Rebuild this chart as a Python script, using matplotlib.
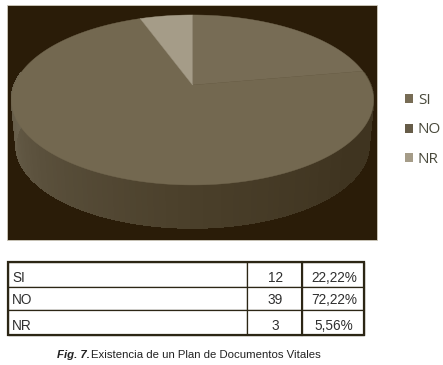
import numpy as np
import matplotlib
matplotlib.use('Agg')
import matplotlib.pyplot as plt
from matplotlib.patches import Polygon, Rectangle, Patch
from matplotlib.colors import to_rgb

categories = ['SI', 'NO', 'NR']
counts = [12, 39, 3]
percents = ['22,22%', '72,22%', '5,56%']
colors = ['#776c55', '#736850', '#a59c88']

fig = plt.figure(figsize=(4.43, 3.65), dpi=100, facecolor='white')
ax = fig.add_axes([0, 0, 1, 1])
ax.set_xlim(0, 443)
ax.set_ylim(365, 0)
ax.axis('off')

ax.add_patch(Rectangle((7, 5), 370, 235, fc='#2a1c08', ec='#cfcabd', lw=0.6, zorder=0))

# pie seen in perspective, centre is not the middle of the ellipse
cx, cy = 192.5, 85
k = 0.176
a = 82.35
b = 178.2


def project(theta, scale=1.0, shift=0.0):
    u = np.sin(theta)
    v = np.cos(theta)
    d = 1 + k * v
    return cx + scale * b * u / d, cy - scale * a * v / d + shift


# side wall
stops = [to_rgb(c) for c in ['#40351f', '#3f3420', '#4a3f2a', '#5a503c', '#6d6450']]
t = np.linspace(np.pi * 0.45, np.pi * 1.55, 120)
for i in range(len(t) - 1):
    th = np.linspace(t[i], t[i + 1], 3)
    x1, y1 = project(th)
    x2, y2 = project(th[::-1], 0.975, 45.5)
    f = i / (len(t) - 2) * (len(stops) - 1)
    j = min(int(f), len(stops) - 2)
    col = np.array(stops[j]) * (1 - (f - j)) + np.array(stops[j + 1]) * (f - j)
    ax.add_patch(Polygon(np.c_[np.r_[x1, x2], np.r_[y1, y2]], fc=col, ec=col, lw=0.5,
                         antialiased=False, zorder=1))

# top slices, clockwise from 12 o'clock
start = 0.0
total = sum(counts)
for n, col in zip(counts, colors):
    end = start + n / total * 2 * np.pi
    th = np.linspace(start, end, 200)
    x, y = project(th)
    ax.add_patch(Polygon(np.c_[np.r_[cx, x], np.r_[cy, y]], fc=col, ec=col, lw=0.3, zorder=2))
    start = end

handles = [Patch(fc=c, ec='none') for c in ['#776c55', '#665c48', '#a59c88']]
ax.legend(handles, categories, loc='center left', bbox_to_anchor=(405 / 443, 1 - 130 / 365),
          frameon=False, handlelength=0.52, handleheight=0.52, handletextpad=0.33,
          labelspacing=0.95, borderpad=0, borderaxespad=0, labelcolor='#4a4a3c',
          prop={'family': 'Open Sans', 'size': 11})

# table grid
tab = ax.table(cellText=[['', '', '']] * 3, colWidths=[239, 55, 62],
               bbox=[8 / 443, (365 - 335) / 365, 356 / 443, 73 / 365])
heights = [24.7, 23.6, 24.7]
for (r, c), cell in tab.get_celld().items():
    cell.set_edgecolor('#2c2615')
    cell.set_linewidth(0.9)
    cell.set_height(heights[r] / 365)
ax.add_patch(Rectangle((8, 262), 356, 73, fc='none', ec='#2c2615', lw=1.6, zorder=5))
ax.plot([302, 302], [262, 335], color='#2c2615', lw=1.5, zorder=5)

# cell texts sit low in their rows in the original
row_y = [278, 299.5, 326]
for y, c, n, p in zip(row_y, categories, counts, percents):
    ax.text(12, y, c, fontsize=9.8, family='Liberation Sans', color='#2f2f2f', ha='left', va='center')
    ax.text(275.5, y, str(n), fontsize=9.8, family='Liberation Sans', color='#2f2f2f', ha='center', va='center')
    ax.text(334, y, p, fontsize=9.8, family='Liberation Sans', color='#2f2f2f', ha='center', va='center')

narrow = ['Liberation Sans Narrow', 'Liberation Sans']
ax.text(57, 355, 'Fig. 7.', fontsize=8.2, style='italic', weight='bold', family=narrow,
        color='#222222', ha='left', va='center')
ax.text(91, 355, 'Existencia de un Plan de Documentos Vitales', fontsize=8.2, family=narrow,
        color='#222222', ha='left', va='center')

fig.savefig('out.png', dpi=100)
